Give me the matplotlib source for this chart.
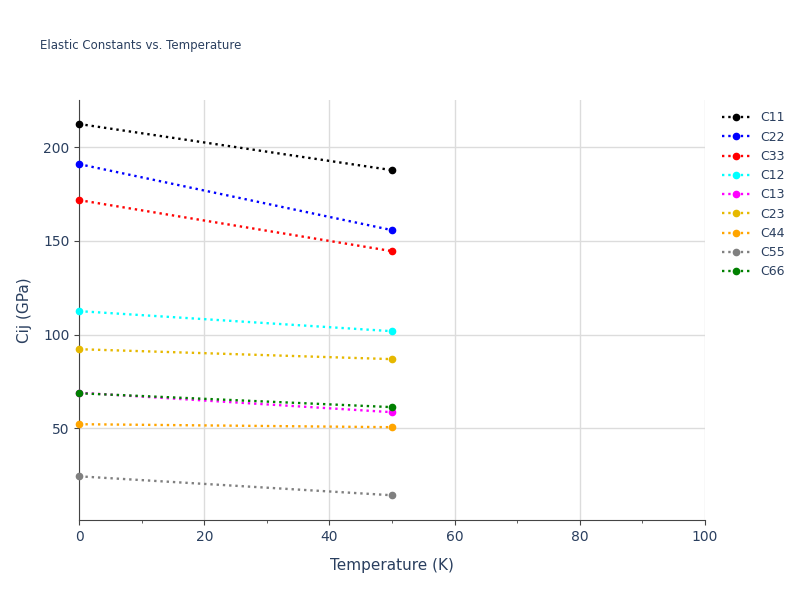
import matplotlib
matplotlib.use("Agg")
import matplotlib.pyplot as plt

temperature = [0, 50]
names = ["C11", "C22", "C33", "C12", "C13", "C23", "C44", "C55", "C66"]
colors = ["black", "blue", "red", "cyan", "magenta", "#e6b800", "orange", "gray", "green"]
values = {
    "C11": [212.3, 187.7],
    "C22": [190.9, 155.7],
    "C33": [171.7, 144.5],
    "C12": [112.5, 101.8],
    "C13": [69.0, 58.6],
    "C23": [92.2, 86.9],
    "C44": [52.2, 50.6],
    "C55": [24.4, 14.3],
    "C66": [68.7, 61.3],
}

txt = "#2a3f5f"
fig = plt.figure(figsize=(8, 6), dpi=100)
ax = fig.add_axes([0.099, 0.133, 0.782, 0.70])
for n, c in zip(names, colors):
    ax.plot(temperature, values[n], linestyle=":", color=c, lw=1.7, marker="o", ms=4.5,
            label=n, clip_on=False, zorder=3)

ax.set_xlim(0, 100)
ax.set_ylim(1, 225)
ax.set_xticks(range(0, 101, 20))
ax.set_xticks(range(0, 101, 10), minor=True)
ax.set_yticks([50, 100, 150, 200])
ax.grid(True, color="#dcdcdc", lw=1)
for s in ["top", "right"]:
    ax.spines[s].set_visible(False)
for s in ["left", "bottom"]:
    ax.spines[s].set_color("#444")
ax.tick_params(colors=txt, labelsize=10)
ax.tick_params(which="both", color="#444")
ax.set_xlabel("Temperature (K)", color=txt, fontsize=11, labelpad=10)
ax.set_ylabel("Cij (GPa)", color=txt, fontsize=11, labelpad=8)
fig.text(0.05, 0.918, "Elastic Constants vs. Temperature", color=txt, fontsize=8.5)
ax.legend(loc="upper left", bbox_to_anchor=(1.01, 1.0), frameon=False,
          fontsize=9, labelcolor=txt, handlelength=2.2, labelspacing=0.5)
fig.savefig("out.png", dpi=100)
